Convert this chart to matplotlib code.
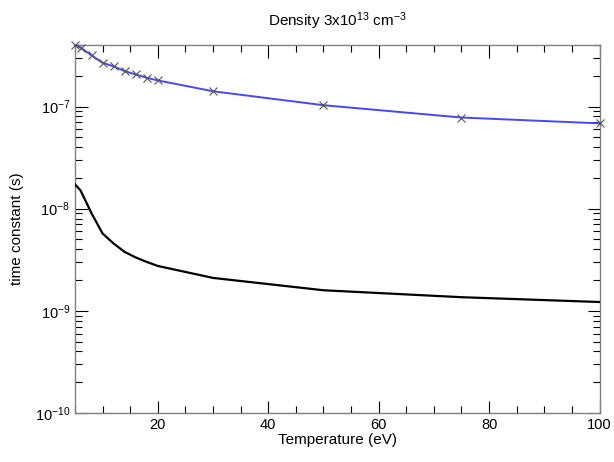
import matplotlib
matplotlib.use("Agg")
import matplotlib.pyplot as plt
from matplotlib.ticker import MultipleLocator, LogLocator, FuncFormatter, NullFormatter
import numpy as np

plt.rcParams["font.family"] = ["Liberation Sans", "DejaVu Sans"]
plt.rcParams["mathtext.fontset"] = "custom"
plt.rcParams["mathtext.rm"] = "Liberation Sans"
plt.rcParams["mathtext.it"] = "Liberation Sans:italic"

# temperature grid (eV)
temp = [5, 6, 8, 10, 12, 14, 16, 18, 20, 30, 50, 75, 100]
# time constants (s)
tau_blue = [3.96e-7, 3.78e-7, 3.16e-7, 2.68e-7, 2.47e-7, 2.22e-7, 2.06e-7,
            1.91e-7, 1.80e-7, 1.41e-7, 1.03e-7, 7.8e-8, 6.84e-8]
tau_black = [1.73e-8, 1.51e-8, 9.0e-9, 5.71e-9, 4.56e-9, 3.77e-9, 3.33e-9,
             3.01e-9, 2.75e-9, 2.10e-9, 1.59e-9, 1.36e-9, 1.22e-9]

fig = plt.figure(figsize=(6.14, 4.62), dpi=100)
ax = fig.add_axes([75 / 614, 49 / 462, 524.5 / 614, 368 / 462])

ax.plot(temp, tau_blue, color="#4646ff", lw=1.4, zorder=3, clip_on=False)
ax.plot(temp, tau_blue, ls="none", marker="x", ms=6, mew=0.8, color="#555555",
        zorder=4, clip_on=False)
ax.plot(temp, tau_black, color="black", lw=1.6, zorder=3)

ax.set_yscale("log")
ax.set_xlim(5, 100)
ax.set_ylim(1e-10, 4.0e-7)

ax.xaxis.set_major_locator(MultipleLocator(20))
ax.xaxis.set_minor_locator(MultipleLocator(5))
ax.yaxis.set_major_locator(LogLocator(base=10, numticks=10))
ax.yaxis.set_minor_locator(LogLocator(base=10, subs=np.arange(2, 10), numticks=20))
ax.yaxis.set_major_formatter(FuncFormatter(lambda v, p: r"$10^{%d}$" % round(np.log10(v))))
ax.yaxis.set_minor_formatter(NullFormatter())

ax.tick_params(which="both", direction="in", top=True, right=True, labelsize=10.5,
               colors="black")
ax.tick_params(which="major", length=9, width=0.8)
ax.tick_params(which="minor", length=5, width=0.8)
for s in ax.spines.values():
    s.set_color("#808080")
    s.set_linewidth(1.0)

ax.set_xlabel("Temperature (eV)", fontsize=11, labelpad=1)
ax.set_ylabel("time constant (s)", fontsize=11, labelpad=8)
ax.set_title(r"Density 3x10$^{13}$ cm$^{-3}$", fontsize=11, pad=14)

fig.savefig("out.png", dpi=100)
